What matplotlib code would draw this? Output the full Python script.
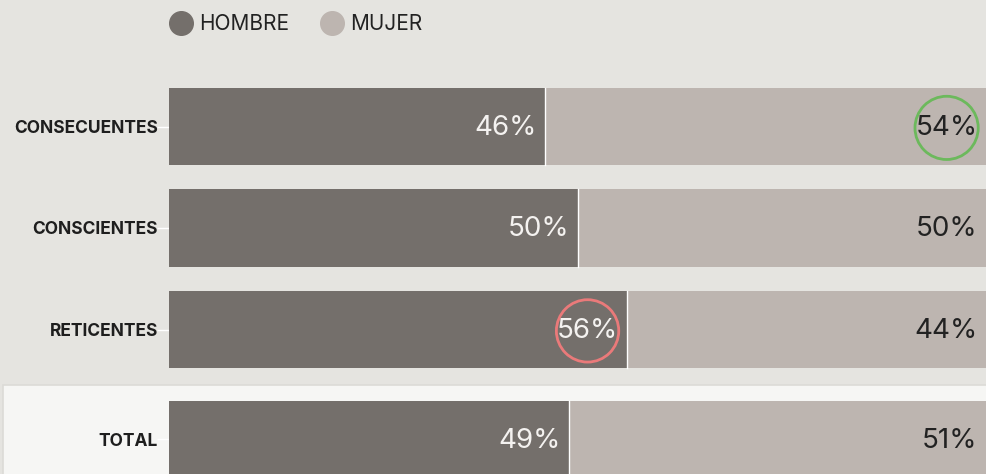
import numpy as np
import matplotlib
matplotlib.use('Agg')
from matplotlib import pyplot as plt
from matplotlib.patches import Rectangle

plt.rcParams['font.family'] = ['Inter', 'DejaVu Sans']

categories = ['CONSECUENTES', 'CONSCIENTES', 'RETICENTES', 'TOTAL']
hombre = [46, 50, 56, 49]
mujer = [54, 50, 44, 51]
series_names = ['HOMBRE', 'MUJER']
highlight = {(0, 'mujer'): '#6cb95c', (2, 'hombre'): '#ea7a7a'}

bg = '#e5e4e0'
c_h = '#746f6b'
c_m = '#bdb5b0'

fig = plt.figure(figsize=(9.86, 4.74), dpi=100, facecolor=bg)

ax = fig.add_axes([169 / 986, 0, 1 - 169 / 986, 1])
ax.set_facecolor('none')

# light panel behind the total row
ax.add_patch(Rectangle((3 / 986, -0.01), 1, (474 - 385) / 474 + 0.01, transform=fig.transFigure,
                       facecolor='#f6f6f4', edgecolor='#dcdbd7', lw=1.2, zorder=0, clip_on=False))

ypos = np.array([0, 1, 2, 3.08])
h = 0.76
ax.barh(ypos, hombre, height=h, color=c_h, edgecolor='none', zorder=2)
ax.barh(ypos, mujer, left=hombre, height=h, color=c_m, edgecolor='none', zorder=2)
# white divider between segments
for y, v in zip(ypos, hombre):
    ax.plot([v, v], [y - h / 2, y + h / 2], color='white', lw=1, zorder=3)

ax.set_xlim(0, 100)
ax.set_ylim((474 - 126.5) / 101.5, -126.5 / 101.5)
ax.set_yticks(ypos)
ax.set_yticklabels(categories, fontsize=12.5, fontweight='bold', color='#1e1e1e')
ax.tick_params(axis='y', length=9, width=1, color='white', pad=-1)
ax.set_xticks([])
for s in ax.spines.values():
    s.set_visible(False)

for i, y in enumerate(ypos):
    kw = {}
    if (i, 'hombre') in highlight:
        kw['bbox'] = dict(boxstyle='circle,pad=0.02', fc='none', ec=highlight[(i, 'hombre')], lw=2)
    ax.annotate(f'{hombre[i]}%', (hombre[i], y), xytext=(-6, -1), textcoords='offset points',
                ha='right', va='center', fontsize=20, color='#f4f2f0', zorder=4, **kw)
    kw = {}
    if (i, 'mujer') in highlight:
        kw['bbox'] = dict(boxstyle='circle,pad=0.02', fc='none', ec=highlight[(i, 'mujer')], lw=2)
    ax.annotate(f'{mujer[i]}%', (100, y), xytext=(-6, -1), textcoords='offset points',
                ha='right', va='center', fontsize=20, color='#222222', zorder=4, **kw)

# legend
for x, col, name in [(181, c_h, series_names[0]), (332, c_m, series_names[1])]:
    fig.add_artist(plt.Line2D([x / 986], [1 - 23 / 474], marker='o', markersize=17,
                              color=col, transform=fig.transFigure))
    fig.text((x + 18) / 986, 1 - 24 / 474, name, fontsize=15, color='#222222', va='center')

fig.savefig('out.png', dpi=100, facecolor=bg)
